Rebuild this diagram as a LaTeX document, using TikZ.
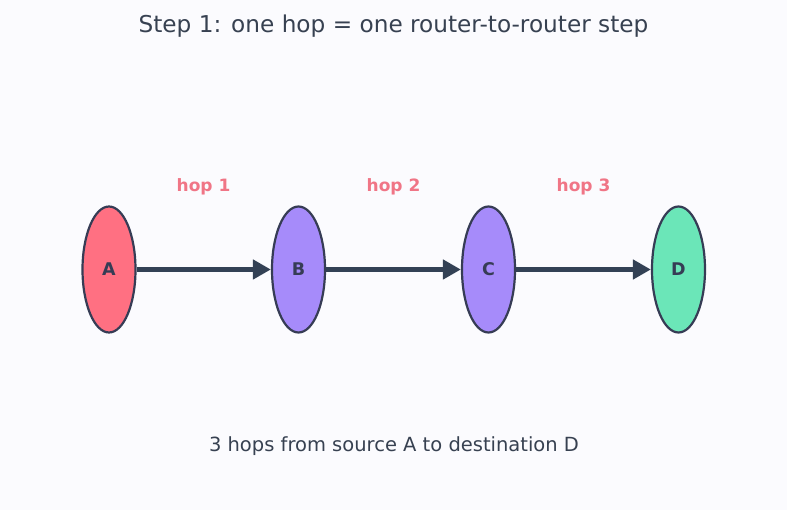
\documentclass[tikz,border=0pt]{standalone}
\usepackage{fontspec}
\setmainfont{DejaVu Sans}
\usetikzlibrary{shapes.geometric,arrows.meta}
\definecolor{bg}{HTML}{FBFBFE}
\definecolor{ink}{HTML}{374151}
\definecolor{edge}{HTML}{334155}
\definecolor{rim}{HTML}{363C55}
\definecolor{srcfill}{HTML}{FF7082}
\definecolor{midfill}{HTML}{A68BFA}
\definecolor{dstfill}{HTML}{6BE6B8}
\definecolor{hopcol}{HTML}{F07586}
\tikzset{
  router/.style={ellipse, draw=rim, line width=2.2pt, minimum width=53pt,
    minimum height=126pt, inner sep=0pt, font=\fontsize{17.5}{19}\selectfont\bfseries,
    text=rim},
  link/.style={draw=edge, line width=4.5pt, -{Triangle[length=18pt,width=19pt]}},
  hoplabel/.style={font=\fontsize{17}{19}\selectfont\bfseries, text=hopcol},
}
\begin{document}
\begin{tikzpicture}[x=1pt,y=-1pt]
  \fill[bg] (0,0) rectangle (787,510);
  \useasboundingbox (0,0) rectangle (787,510);
  \node[text=ink, font=\fontsize{23.2}{26}\selectfont] (title) at (393.5,26) {Step 1: one hop = one router-to-router step};
  \node[router, fill=srcfill] (a) at (109,269.5) {A};
  \node[router, fill=midfill] (b) at (298.5,269.5) {B};
  \node[router, fill=midfill] (c) at (488.5,269.5) {C};
  \node[router, fill=dstfill] (d) at (678.5,269.5) {D};
  \draw[link] (a) -- (b);
  \draw[link] (b) -- (c);
  \draw[link] (c) -- (d);
  \node[hoplabel] (h1) at (203.5,187) {hop 1};
  \node[hoplabel] (h2) at (393.5,187) {hop 2};
  \node[hoplabel] (h3) at (583.5,187) {hop 3};
  \node[text=ink, font=\fontsize{19.5}{22}\selectfont] (note) at (394,446.5) {3 hops from source A to destination D};
\end{tikzpicture}
\end{document}
